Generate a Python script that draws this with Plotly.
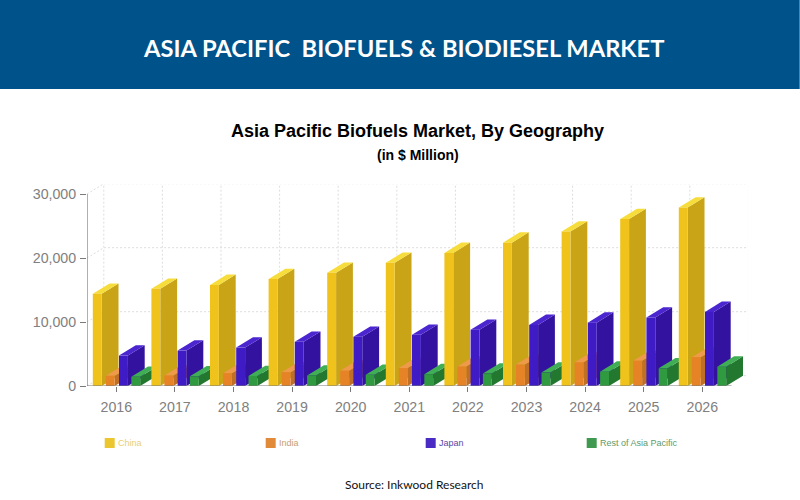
# Asia Pacific biofuels market chart, bars drawn with a fake 3D look

import plotly.graph_objects as go

years = ['2016', '2017', '2018', '2019', '2020', '2021', '2022', '2023', '2024', '2025', '2026']
china = [14400, 15180, 15800, 16700, 17700, 19250, 20800, 22400, 24150, 26100, 27900]
india = [1600, 1650, 2000, 2150, 2400, 2800, 3050, 3350, 3700, 3950, 4500]
japan = [4750, 5530, 6000, 6900, 7700, 8000, 8800, 9550, 9900, 10700, 11580]
rest = [1450, 1520, 1570, 1650, 1750, 1850, 1950, 2100, 2240, 2770, 3020]

y_ticks = [0, 10000, 20000, 30000]

# name, values, front colour, side colour, top colour, legend swatch, legend text colour
series = [
    ('China', china, '#EFC31C', '#C8A416', '#F7DD3C', '#EBC62F', '#E8CF74'),
    ('India', india, '#E68327', '#BF6F26', '#EE9A4A', '#E08A3A', '#C79E73'),
    ('Japan', japan, '#3E1BC4', '#33129F', '#4A25D0', '#4A2BC4', '#5B45A8'),
    ('Rest of Asia Pacific', rest, '#2F9A3F', '#23782F', '#3FAE55', '#3F9A4F', '#5E9B6A'),
]

# plot area in pixels
L, R, T, B = 87.3, 748.3, 184.0, 386.0
W, H = 800, 500
CAT_PX = 58.6
VAL_PX = 0.0064  # pixels per unit

# depth of the fake 3D, and bar placement, in data units
DX = 16.8 / CAT_PX
DY = 10.3 / VAL_PX
BAR_W = 8.9 / CAT_PX
OFFSETS = [-23.5 / CAT_PX, -10.5 / CAT_PX, 2.7 / CAT_PX, 15.0 / CAT_PX]


def px_x(x):
    return (x - L) / (R - L)


def px_y(y):
    return (B - y) / (B - T)


def poly(xs, ys, color, name):
    return go.Scatter(x=xs, y=ys, mode='lines', fill='toself', fillcolor=color,
                      line=dict(width=0), name=name, showlegend=False, hoverinfo='name')


fig = go.Figure()

# back wall grid and the dotted diagonals on the left and right
gx, gy = [], []
for v in y_ticks:
    gx += [-0.5, -0.5 + DX, 10.5 + DX, None]
    gy += [v, v + DY, v + DY, None]
for k in range(12):
    gx += [-0.5 + DX + k, -0.5 + DX + k, None]
    gy += [DY, 30000 + DY, None]
fig.add_trace(go.Scatter(x=gx, y=gy, mode='lines', showlegend=False, hoverinfo='skip',
                         line=dict(color='#DDDDDD', width=1, dash='2px,2px'), cliponaxis=False))

# painter's order: left to right, so each bar covers the depth of the one before
for i in range(len(years)):
    for s, (name, values, front, side, top, _, _) in enumerate(series):
        v = values[i]
        x0 = i + OFFSETS[s]
        x1 = x0 + BAR_W
        fig.add_trace(poly([x1, x1, x1 + DX, x1 + DX, x1], [0, v, v + DY, DY, 0], side, name))
        fig.add_trace(poly([x0, x1, x1 + DX, x0 + DX, x0], [v, v, v + DY, v + DY, v], top, name))
        fig.add_trace(poly([x0, x1, x1, x0, x0], [0, 0, v, v, 0], front, name))

# axis lines
fig.add_trace(go.Scatter(x=[-0.5, -0.5, 10.5], y=[30000, 0, 0], mode='lines', showlegend=False,
                         hoverinfo='skip', line=dict(color='#7A7A7A', width=1.2), cliponaxis=False))

fig.update_xaxes(range=[-0.5, (R - L) / CAT_PX - 0.5], tickmode='array',
                 tickvals=list(range(len(years))), ticktext=years,
                 ticks='outside', ticklen=5, tickcolor='#7A7A7A', ticklabelstandoff=3,
                 showgrid=False, zeroline=False, showline=False,
                 tickfont=dict(family='Liberation Sans', size=14.2, color='#808080'))
fig.update_yaxes(range=[0, (B - T) / VAL_PX], tickmode='array', tickvals=y_ticks,
                 tickformat=',', ticks='outside', ticklen=6, tickcolor='#7A7A7A', ticklabelstandoff=1,
                 showgrid=False, zeroline=False, showline=False,
                 tickfont=dict(family='Liberation Sans', size=14.2, color='#808080'))

# banner
shapes = [dict(type='rect', xref='paper', yref='paper', x0=px_x(0), x1=px_x(W), y0=px_y(89), y1=px_y(0),
               fillcolor='#00528A', line=dict(width=0), layer='below')]
notes = [
    dict(text='<b>ASIA PACIFIC \u00a0BIOFUELS &amp; BIODIESEL MARKET</b>', x=403.5, y=48, size=23.7,
         color='white', family='Lato'),
    dict(text='<b>Asia Pacific Biofuels Market, By Geography</b>', x=418, y=131, size=18,
         color='black', family='Liberation Sans'),
    dict(text='<b>(in $ Million)</b>', x=418, y=155, size=14,
         color='black', family='Liberation Sans'),
    dict(text='Source: Inkwood Research', x=414, y=484, size=12,
         color='#111111', family='Lato'),
]

# legend: swatches and names laid out along one row
legend_x = [105, 266, 426, 587]
for lx, (name, _, _, _, _, swatch, text_color) in zip(legend_x, series):
    shapes.append(dict(type='rect', xref='paper', yref='paper', x0=px_x(lx), x1=px_x(lx + 10),
                       y0=px_y(448), y1=px_y(438), fillcolor=swatch, line=dict(width=0)))
    fig.add_annotation(text=name, xref='paper', yref='paper', x=px_x(lx + 11.5), y=px_y(443),
                       xanchor='left', yanchor='middle', showarrow=False,
                       font=dict(family='Liberation Sans', size=9, color=text_color))

for n in notes:
    fig.add_annotation(text=n['text'], xref='paper', yref='paper', x=px_x(n['x']), y=px_y(n['y']),
                       xanchor='center', yanchor='middle', showarrow=False,
                       font=dict(family=n['family'], size=n['size'], color=n['color']))

fig.update_layout(width=W, height=H, plot_bgcolor='white', paper_bgcolor='white', showlegend=False,
                  margin=dict(l=L, r=W - R, t=T, b=H - B, pad=0, autoexpand=False), shapes=shapes)

# the page's default body margin would push the whole picture 8px down and right
fig.write_html("out.html", config=dict(displayModeBar=False),
               post_script="document.body.style.margin='0';")
